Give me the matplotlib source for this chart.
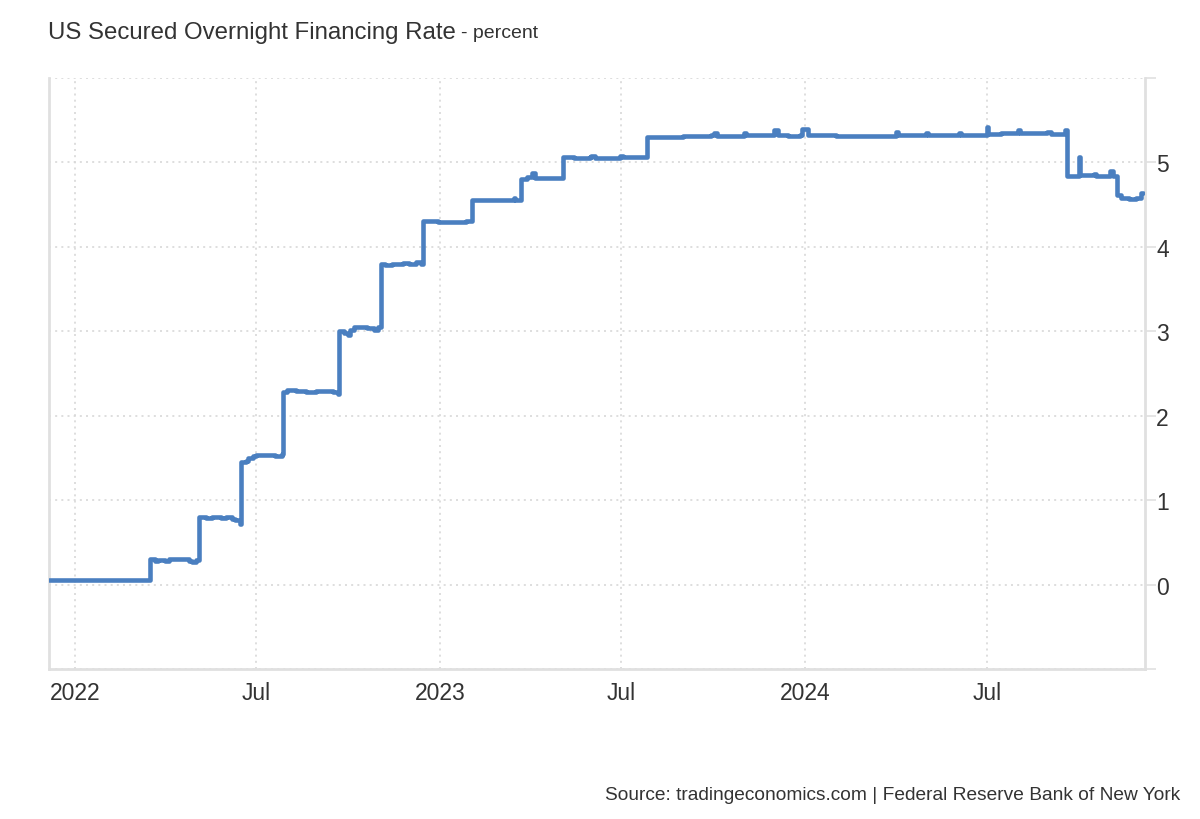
import numpy as np
import pandas as pd
import matplotlib as mpl
import matplotlib.pyplot as plt

# SOFR, percent (change points + visible wiggles)
dates = [
    '2021-12-06', '2022-01-14', '2022-02-15', '2022-03-17', '2022-03-22', '2022-03-25',
    '2022-04-01', '2022-04-05', '2022-04-20', '2022-04-25', '2022-04-28', '2022-05-02',
    '2022-05-05', '2022-05-12', '2022-05-18', '2022-05-27', '2022-06-01', '2022-06-07',
    '2022-06-10', '2022-06-13', '2022-06-15', '2022-06-16', '2022-06-21', '2022-06-23',
    '2022-06-28', '2022-07-01', '2022-07-12', '2022-07-20', '2022-07-27', '2022-07-28',
    '2022-08-01', '2022-08-10', '2022-08-20', '2022-08-30', '2022-09-10', '2022-09-16',
    '2022-09-21', '2022-09-22', '2022-09-27', '2022-10-01', '2022-10-03', '2022-10-07',
    '2022-10-20', '2022-10-27', '2022-10-31', '2022-11-03', '2022-11-07', '2022-11-14',
    '2022-11-25', '2022-12-01', '2022-12-08', '2022-12-13', '2022-12-15', '2022-12-30',
    '2023-01-20', '2023-01-27', '2023-02-02', '2023-02-15', '2023-03-13', '2023-03-16',
    '2023-03-17', '2023-03-23', '2023-03-29', '2023-04-03', '2023-04-06', '2023-04-12',
    '2023-04-28', '2023-05-01', '2023-05-04', '2023-05-15', '2023-05-31', '2023-06-01',
    '2023-06-05', '2023-06-15', '2023-06-30', '2023-07-03', '2023-07-27', '2023-08-15',
    '2023-09-01', '2023-09-29', '2023-10-02', '2023-10-05', '2023-10-20', '2023-11-01',
    '2023-11-03', '2023-11-20', '2023-12-01', '2023-12-05', '2023-12-15', '2023-12-27',
    '2023-12-29', '2024-01-02', '2024-01-04', '2024-02-01', '2024-03-01', '2024-04-01',
    '2024-04-03', '2024-05-01', '2024-05-03', '2024-06-03', '2024-06-05', '2024-07-01',
    '2024-07-02', '2024-07-15', '2024-08-01', '2024-08-03', '2024-08-15', '2024-08-30',
    '2024-09-03', '2024-09-17', '2024-09-19', '2024-10-01', '2024-10-02', '2024-10-16',
    '2024-10-18', '2024-10-25', '2024-11-01', '2024-11-04', '2024-11-08', '2024-11-12',
    '2024-11-20', '2024-11-27', '2024-12-02', '2024-12-04',
]
sofr = [
    0.05, 0.05, 0.05, 0.30, 0.28, 0.29,
    0.28, 0.30, 0.30, 0.28, 0.27, 0.29,
    0.80, 0.79, 0.80, 0.79, 0.80, 0.78,
    0.77, 0.76, 0.72, 1.45, 1.46, 1.50,
    1.52, 1.53, 1.53, 1.52, 1.55, 2.28,
    2.30, 2.29, 2.28, 2.29, 2.29, 2.28,
    2.26, 3.00, 2.98, 2.96, 3.02, 3.05,
    3.04, 3.02, 3.05, 3.80, 3.78, 3.80,
    3.81, 3.80, 3.82, 3.80, 4.31, 4.30,
    4.30, 4.31, 4.55, 4.55, 4.56, 4.58,
    4.55, 4.80, 4.83, 4.87, 4.82, 4.81,
    4.81, 4.82, 5.06, 5.05, 5.06, 5.08,
    5.05, 5.05, 5.08, 5.06, 5.30, 5.30,
    5.31, 5.32, 5.35, 5.31, 5.31, 5.35,
    5.32, 5.32, 5.39, 5.32, 5.31, 5.33,
    5.40, 5.40, 5.32, 5.31, 5.31, 5.36,
    5.32, 5.35, 5.32, 5.35, 5.33, 5.42,
    5.34, 5.35, 5.38, 5.35, 5.35, 5.36,
    5.34, 5.38, 4.84, 5.06, 4.85, 4.86,
    4.84, 4.84, 4.90, 4.84, 4.61, 4.58,
    4.57, 4.58, 4.64, 4.64,
]

x_ticks = ['2022-01-01', '2022-07-01', '2023-01-01', '2023-07-01', '2024-01-01', '2024-07-01']
x_labels = ['2022', 'Jul', '2023', 'Jul', '2024', 'Jul']
y_ticks = [-1, 0, 1, 2, 3, 4, 5, 6]
y_labels = ['', '0', '1', '2', '3', '4', '5', '']

mpl.rcParams['font.family'] = ['Liberation Sans', 'DejaVu Sans']

fig = plt.figure(figsize=(12, 8.2), dpi=100)
ax = fig.add_axes([49 / 1200, 150 / 820, 1096 / 1200, 591 / 820])

ax.step(pd.to_datetime(dates), sofr, where='post', color='#4a7fc0', lw=3.3,
        solid_joinstyle='round', solid_capstyle='round', zorder=3)

ax.set_xlim(pd.Timestamp('2021-12-06'), pd.Timestamp('2024-12-06'))
ax.set_ylim(-1, 6)

ax.set_xticks(pd.to_datetime(x_ticks))
ax.set_xticklabels(x_labels)
ax.set_yticks(y_ticks)
ax.set_yticklabels(y_labels)

ax.yaxis.tick_right()
ax.tick_params(axis='y', length=8, width=1.2, color='#e0e0e0', pad=0,
               labelsize=16.5, labelcolor='#333333')
ax.tick_params(axis='x', length=0, pad=9, labelsize=16.5, labelcolor='#333333')

ax.grid(True, color='#d8d8d8', linestyle=(0, (1.2, 2.5)), linewidth=1.2)
ax.spines['top'].set_visible(False)
for s in ['left', 'right', 'bottom']:
    ax.spines[s].set_color('#e0e0e0')
    ax.spines[s].set_linewidth(2)

# title
t = fig.text(48 / 1200, 1 - 33 / 820, 'US Secured Overnight Financing Rate',
             fontsize=17.3, color='#333333', va='center')
fig.canvas.draw()
bb = t.get_window_extent(fig.canvas.get_renderer())
fig.text(bb.x1 / 1200 + 5 / 1200, 1 - 34 / 820, '- percent', fontsize=14,
         color='#333333', va='center')

fig.text(1180 / 1200, 1 - 796 / 820,
         'Source: tradingeconomics.com | Federal Reserve Bank of New York',
         fontsize=13.8, color='#333333', ha='right', va='center')

fig.savefig('out.png', dpi=100)
